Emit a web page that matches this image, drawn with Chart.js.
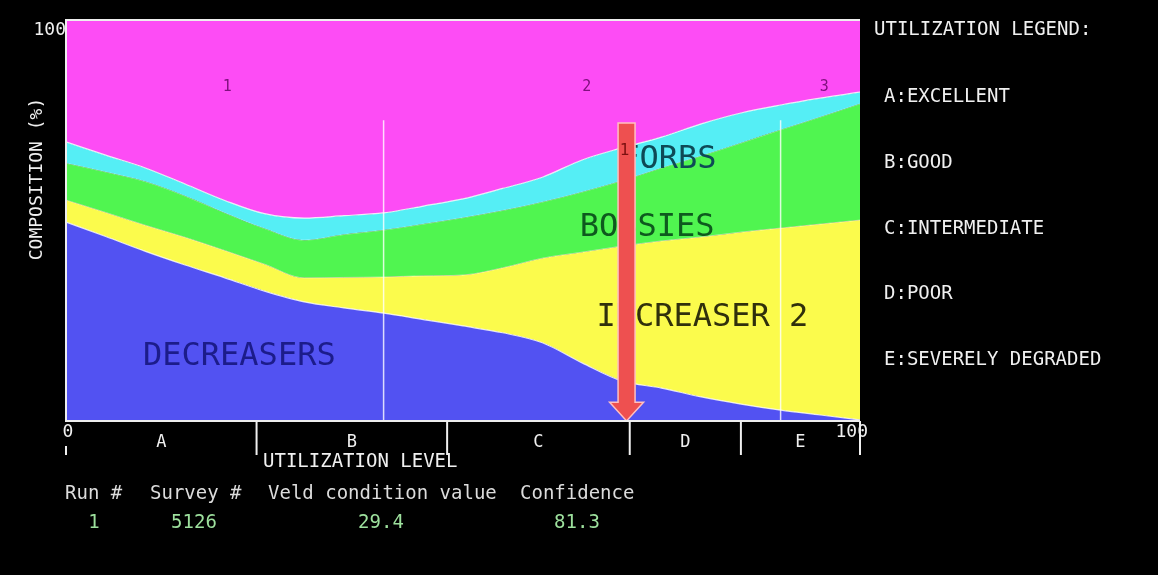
<!DOCTYPE html>
<html lang="en">
<head>
<meta charset="UTF-8">
<title>Veld Condition</title>
<script src="https://cdn.jsdelivr.net/npm/chart.js"></script>
<style>
  body { margin: 0; background: #000; }
  canvas { display: block; }
</style>
</head>
<body>
<canvas id="veld-chart" width="1158" height="575"></canvas>
<script>
// Utilization level (%) along the x axis
const utilization = [0, 5, 10, 15, 20, 25, 30, 35, 40, 45, 50, 55, 60, 65, 70, 75, 80, 85, 90, 95, 100];

// Composition (%) of each plant group, stacked from the bottom up
const decreasers = [49.6, 46.0, 42.3, 38.9, 35.7, 32.4, 29.7, 28.2, 26.9, 25.3, 23.7, 22.0, 19.5, 14.5, 10.0, 8.2, 6.0, 4.2, 2.7, 1.5, 0.3];
const increaser2 = [5.5, 6.0, 6.5, 6.9, 6.8, 6.7, 6.0, 7.6, 9.0, 10.9, 12.7, 16.2, 21.1, 27.6, 33.6, 36.7, 39.9, 42.9, 45.4, 47.6, 49.8];
const bossies    = [9.2, 10.1, 10.9, 10.3, 9.4, 8.9, 9.4, 10.7, 11.7, 12.9, 14.3, 14.3, 14.0, 15.0, 16.3, 18.2, 20.2, 22.2, 24.5, 26.7, 29.0];
const forbs      = [5.3, 4.2, 3.4, 3.0, 3.1, 3.7, 5.5, 4.7, 4.3, 4.5, 4.7, 5.5, 6.2, 8.0, 8.2, 7.7, 8.0, 7.5, 6.2, 4.7, 2.9];
const remainder  = [30.4, 33.7, 36.9, 40.9, 45.0, 48.3, 49.4, 48.8, 48.1, 46.4, 44.6, 42.0, 39.2, 34.9, 31.9, 29.2, 25.9, 23.2, 21.2, 19.5, 18.0];

// Utilization classes along the bottom axis
const levelLetters = ['A', 'B', 'C', 'D', 'E'];
const levelBounds = [0, 24, 48, 71, 85, 100];
const legendLines = ['A:EXCELLENT', 'B:GOOD', 'C:INTERMEDIATE', 'D:POOR', 'E:SEVERELY DEGRADED'];

// Sample marks along the top and the guide lines
const sampleMarks = ['1', '2', '3'];
const sampleAt = [20.3, 65.6, 95.5];
const guideLines = [40, 90];

// Run summary
const runNumber = 1;
const surveyNumber = 5126;
const veldCondition = 29.4;
const confidence = 81.3;
const tableHeaders = ['Run #', 'Survey #', 'Veld condition value', 'Confidence'];

const MONO = '"DejaVu Sans Mono", monospace';

function series(values) {
    return utilization.map((u, i) => ({ x: u, y: values[i] }));
}

const overlay = {
    id: 'overlay',
    beforeDraw(chart) {
        const ctx = chart.ctx;
        ctx.save();
        ctx.fillStyle = '#000';
        ctx.fillRect(0, 0, chart.width, chart.height);
        ctx.restore();
    },
    afterDatasetsDraw(chart) {
        const { ctx, chartArea: a, scales: { x, y } } = chart;
        ctx.save();

        // thin guide lines inside the plot
        ctx.strokeStyle = 'rgba(255,255,255,0.8)';
        ctx.lineWidth = 1.5;
        guideLines.forEach(g => {
            ctx.beginPath();
            ctx.moveTo(x.getPixelForValue(g), y.getPixelForValue(75));
            ctx.lineTo(x.getPixelForValue(g), a.bottom);
            ctx.stroke();
        });

        // group labels
        ctx.font = '32px ' + MONO;
        ctx.textAlign = 'left';
        ctx.textBaseline = 'middle';
        const labels = [
            ['DECREASERS', 9.7, 16, '#1c1c8a'],
            ['INCREASER 2', 66.8, 25.7, '#30300c'],
            ['BOSSIES', 64.7, 48.1, '#0e5a1e'],
            ['FORBS', 69.8, 65.1, '#0e4a56']
        ];
        labels.forEach(([t, lx, ly, c]) => {
            ctx.fillStyle = c;
            ctx.fillText(t, x.getPixelForValue(lx), y.getPixelForValue(ly));
        });

        // sample numbers near the top
        ctx.font = '15px ' + MONO;
        ctx.textAlign = 'center';
        ctx.fillStyle = '#80107f';
        sampleMarks.forEach((m, i) => {
            ctx.fillText(m, x.getPixelForValue(sampleAt[i]), y.getPixelForValue(83.3));
        });

        // arrow pointing at the utilization level of this run
        const ax = x.getPixelForValue(100 - veldCondition);
        const top = y.getPixelForValue(74.3);
        const neck = y.getPixelForValue(4.7);
        const tip = a.bottom;
        ctx.beginPath();
        ctx.moveTo(ax - 8.5, top);
        ctx.lineTo(ax + 8.5, top);
        ctx.lineTo(ax + 8.5, neck);
        ctx.lineTo(ax + 17, neck);
        ctx.lineTo(ax, tip);
        ctx.lineTo(ax - 17, neck);
        ctx.lineTo(ax - 8.5, neck);
        ctx.closePath();
        ctx.fillStyle = '#ee5050';
        ctx.fill();
        ctx.strokeStyle = '#ffc0c0';
        ctx.lineWidth = 1.5;
        ctx.stroke();
        ctx.font = '16px ' + MONO;
        ctx.fillStyle = '#7a1010';
        ctx.fillText(String(runNumber), ax - 2, top + 28);

        // plot frame
        ctx.strokeStyle = '#eeeeee';
        ctx.lineWidth = 2;
        ctx.beginPath();
        ctx.moveTo(a.right, a.top);
        ctx.lineTo(a.left, a.top);
        ctx.lineTo(a.left, a.bottom);
        ctx.lineTo(a.right, a.bottom);
        ctx.stroke();

        // utilization class ticks and letters
        ctx.strokeStyle = '#f0f0f0';
        levelBounds.slice(1).forEach(b => {
            ctx.beginPath();
            ctx.moveTo(x.getPixelForValue(b), a.bottom);
            ctx.lineTo(x.getPixelForValue(b), a.bottom + 34);
            ctx.stroke();
        });
        ctx.beginPath();
        ctx.moveTo(a.left, a.bottom + 25);
        ctx.lineTo(a.left, a.bottom + 34);
        ctx.stroke();

        ctx.fillStyle = '#f0f0f0';
        ctx.font = '17px ' + MONO;
        ctx.textAlign = 'center';
        levelLetters.forEach((l, i) => {
            const mid = (levelBounds[i] + levelBounds[i + 1]) / 2;
            ctx.fillText(l, x.getPixelForValue(mid), a.bottom + 22);
        });

        ctx.font = '18px ' + MONO;
        ctx.fillText('0', a.left + 2, a.bottom + 11);
        ctx.textAlign = 'right';
        ctx.fillText('100', a.right + 8, a.bottom + 11);
        ctx.fillText('100', a.left, a.top + 10);

        ctx.textAlign = 'left';
        ctx.font = '19px ' + MONO;
        ctx.fillText('UTILIZATION LEVEL', 263, a.bottom + 41);

        // y axis title
        ctx.save();
        ctx.translate(37, 179);
        ctx.rotate(-Math.PI / 2);
        ctx.textAlign = 'center';
        ctx.font = '18px ' + MONO;
        ctx.fillText('COMPOSITION (%)', 0, 0);
        ctx.restore();

        // legend on the right
        ctx.font = '19px ' + MONO;
        ctx.textAlign = 'left';
        ctx.fillText('UTILIZATION LEGEND:', 874, 30);
        legendLines.forEach((t, i) => {
            ctx.fillText(t, 884, 97 + i * 65.8);
        });

        // run summary table
        const cols = [65, 150, 268, 520];
        ctx.fillStyle = '#dcdcdc';
        tableHeaders.forEach((h, i) => ctx.fillText(h, cols[i], 494));
        ctx.fillStyle = '#9de09d';
        ctx.textAlign = 'center';
        const vals = [String(runNumber), String(surveyNumber), veldCondition.toFixed(1), confidence.toFixed(1)];
        const centers = [94, 194, 381, 577];
        vals.forEach((v, i) => ctx.fillText(v, centers[i], 523));

        ctx.restore();
    }
};

const ctx = document.getElementById('veld-chart').getContext('2d');
const chart = new Chart(ctx, {
    type: 'line',
    data: {
        datasets: [
            { label: 'Decreasers', data: series(decreasers), backgroundColor: '#5252f2', borderColor: 'rgba(255,255,255,0.85)', borderWidth: 1.2, fill: 'origin' },
            { label: 'Increaser 2', data: series(increaser2), backgroundColor: '#fbfb4c', borderColor: 'rgba(255,255,255,0.5)', borderWidth: 1, fill: '-1' },
            { label: 'Bossies', data: series(bossies), backgroundColor: '#50f550', borderColor: 'rgba(255,255,255,0.4)', borderWidth: 1, fill: '-1' },
            { label: 'Forbs', data: series(forbs), backgroundColor: '#55eef5', borderColor: 'rgba(255,255,255,0.85)', borderWidth: 1.2, fill: '-1' },
            { label: 'Other', data: series(remainder), backgroundColor: '#fd4cf5', borderWidth: 0, fill: '-1' }
        ]
    },
    options: {
        responsive: false,
        animation: false,
        layout: { padding: { left: 66, right: 298, top: 20, bottom: 154 } },
        plugins: { legend: { display: false }, tooltip: { enabled: false } },
        elements: { point: { radius: 0 }, line: { tension: 0.3, cubicInterpolationMode: 'monotone' } },
        scales: {
            x: { type: 'linear', min: 0, max: 100, display: false },
            y: { stacked: true, min: 0, max: 100, display: false }
        }
    },
    plugins: [overlay]
});
</script>
</body>
</html>
